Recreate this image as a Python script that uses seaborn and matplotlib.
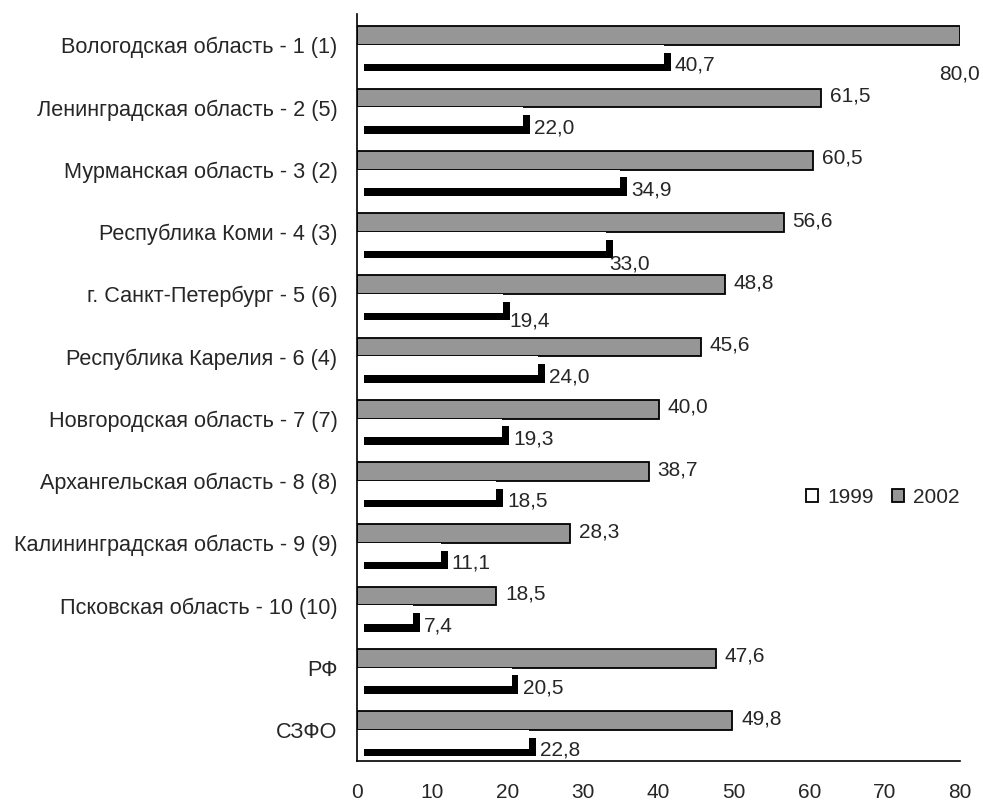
import pandas as pd
import numpy as np
import matplotlib
matplotlib.use('Agg')
import matplotlib.pyplot as plt
import matplotlib.patheffects as pe
from matplotlib.patches import Patch
import seaborn as sns

regions = ['Вологодская область - 1 (1)', 'Ленинградская область - 2 (5)',
           'Мурманская область - 3 (2)', 'Республика Коми - 4 (3)',
           'г. Санкт-Петербург - 5 (6)', 'Республика Карелия - 6 (4)',
           'Новгородская область - 7 (7)', 'Архангельская область - 8 (8)',
           'Калининградская область - 9 (9)', 'Псковская область - 10 (10)',
           'РФ', 'СЗФО']
v2002 = [80.0, 61.5, 60.5, 56.6, 48.8, 45.6, 40.0, 38.7, 28.3, 18.5, 47.6, 49.8]
v1999 = [40.7, 22.0, 34.9, 33.0, 19.4, 24.0, 19.3, 18.5, 11.1, 7.4, 20.5, 22.8]
years = ['2002', '1999']
x_ticks = [0, 10, 20, 30, 40, 50, 60, 70, 80]

sns.set_style('white')
plt.rcParams['font.family'] = ['Liberation Sans', 'DejaVu Sans']
FS = 15

df = pd.DataFrame({
    'region': regions * 2,
    'value': v2002 + v1999,
    'year': ['2002'] * len(regions) + ['1999'] * len(regions),
})

fig = plt.figure(figsize=(9.83, 8.01), dpi=100)
ax = fig.add_axes([357 / 983, 1 - 761 / 801, (960 - 357) / 983, (761 - 14) / 801])

sns.barplot(data=df, y='region', x='value', hue='year', hue_order=years,
            orient='h', width=0.6, dodge=True, gap=0, ax=ax,
            palette={'2002': '#969696', '1999': 'white'}, legend=False)

# 2002: серые с чёрной рамкой
for bar in ax.containers[0]:
    bar.set_facecolor('#969696')
    bar.set_edgecolor('black')
    bar.set_linewidth(1.3)
# 1999: белые с чёрной тенью
shadow = [pe.SimplePatchShadow(offset=(5, -5.5), shadow_rgbFace='black', alpha=1.0),
          pe.Normal()]
for bar in ax.containers[1]:
    bar.set_facecolor('white')
    bar.set_edgecolor('none')
    bar.set_path_effects(shadow)

def fmt(v):
    return f'{v:.1f}'.replace('.', ',')

# подписи значений (смещения в пикселях)
off2002 = {0: (-21, -38)}
off1999 = {3: (4, -23), 4: (6, -18)}
for i, bar in enumerate(ax.containers[0]):
    w = bar.get_width()
    yc = bar.get_y() + bar.get_height() / 2
    dx, dy = off2002.get(i, (9, 2))
    ax.annotate(fmt(w), (w, yc), xytext=(dx, dy), textcoords='offset pixels',
                ha='left', va='center', fontsize=FS)
for i, bar in enumerate(ax.containers[1]):
    w = bar.get_width()
    yc = bar.get_y() + bar.get_height() / 2
    dx, dy = off1999.get(i, (11, -11))
    ax.annotate(fmt(w), (w, yc), xytext=(dx, dy), textcoords='offset pixels',
                ha='left', va='center', fontsize=FS)

ax.set_xlim(0, 80)
ax.set_ylim(len(regions) - 0.5, -0.5)
ax.set_xticks(x_ticks)
ax.set_xticklabels([str(t) for t in x_ticks], fontsize=FS)
ax.set_yticks(range(len(regions)))
ax.set_yticklabels(regions, fontsize=15.6)
ax.set_yticks(np.arange(-0.5, len(regions), 1.0), minor=True)
ax.tick_params(axis='y', which='major', length=0, pad=14)
ax.tick_params(axis='y', which='minor', length=5, width=1.2, direction='out', color='black')
ax.tick_params(axis='x', which='major', length=5, width=1.2, direction='out', color='black', pad=11)
ax.set_xlabel('')
ax.set_ylabel('')

for s in ['top', 'right']:
    ax.spines[s].set_visible(False)
for s in ['left', 'bottom']:
    ax.spines[s].set_color('black')
    ax.spines[s].set_linewidth(1.2)

handles = [Patch(facecolor='white', edgecolor='black', linewidth=1.3, label='1999'),
           Patch(facecolor='#969696', edgecolor='black', linewidth=1.3, label='2002')]
ax.legend(handles=handles, loc='center left', bbox_to_anchor=(0.745, 0.353),
          ncol=2, frameon=False, fontsize=FS, handlelength=0.55, handleheight=0.55,
          handletextpad=0.45, columnspacing=0.9, borderpad=0, borderaxespad=0)

fig.savefig('out.png', dpi=100)
